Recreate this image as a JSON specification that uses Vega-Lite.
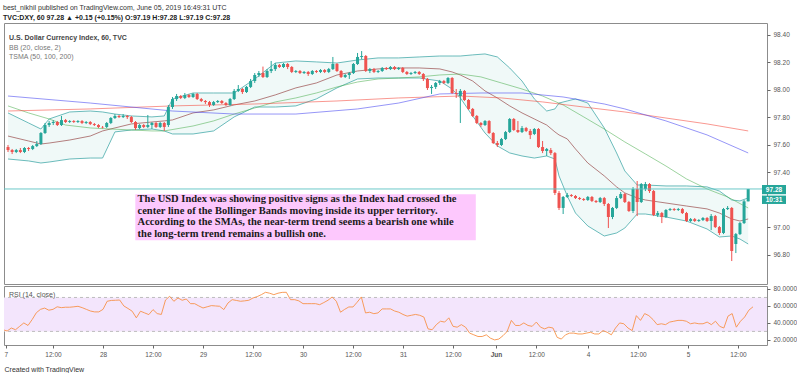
{
"$schema": "https://vega.github.io/schema/vega-lite/v6.json",
"background": "white",
"padding": {"left": 3, "top": 3, "right": 0, "bottom": 0},
"spacing": 0,
"title": {"text": "best_nikhil published on TradingView.com, June 05, 2019 16:49:31 UTC", "subtitle": "TVC:DXY, 60 97.28 ▲ +0.15 (+0.15%) O:97.19 H:97.28 L:97.19 C:97.28", "anchor": "start", "frame": "group", "dx": -1, "font": "Liberation Sans", "fontSize": 7, "fontWeight": "normal", "color": "#333333", "subtitleFont": "Liberation Sans", "subtitleFontSize": 7, "subtitleFontWeight": "bold", "subtitleColor": "#222222", "subtitlePadding": 3, "offset": 2},
"config": {
  "font": "Liberation Sans",
  "view": {"stroke": "#8c8c8c", "strokeWidth": 1},
  "axis": {"labelFont": "Liberation Sans", "labelFontSize": 6.5, "labelColor": "#555555", "tickColor": "#666666", "tickSize": 3, "domain": false, "grid": false, "titleFont": "Liberation Sans", "labelOverlap": false}
},
"datasets": {
"bars": [
{"i":0,"o":97.585,"h":97.600,"l":97.549,"c":97.563},
{"i":1,"o":97.563,"h":97.571,"l":97.534,"c":97.549},
{"i":2,"o":97.549,"h":97.571,"l":97.541,"c":97.563},
{"i":3,"o":97.563,"h":97.578,"l":97.541,"c":97.549},
{"i":4,"o":97.549,"h":97.585,"l":97.541,"c":97.578},
{"i":5,"o":97.578,"h":97.585,"l":97.556,"c":97.571},
{"i":6,"o":97.571,"h":97.600,"l":97.563,"c":97.592},
{"i":7,"o":97.592,"h":97.629,"l":97.585,"c":97.607},
{"i":8,"o":97.607,"h":97.694,"l":97.600,"c":97.687},
{"i":9,"o":97.687,"h":97.760,"l":97.680,"c":97.745},
{"i":10,"o":97.745,"h":97.774,"l":97.731,"c":97.760},
{"i":11,"o":97.760,"h":97.781,"l":97.745,"c":97.767},
{"i":12,"o":97.767,"h":97.774,"l":97.738,"c":97.745},
{"i":13,"o":97.745,"h":97.811,"l":97.738,"c":97.781},
{"i":14,"o":97.781,"h":97.789,"l":97.760,"c":97.767},
{"i":15,"o":97.767,"h":97.781,"l":97.760,"c":97.774},
{"i":16,"o":97.774,"h":97.781,"l":97.760,"c":97.767},
{"i":17,"o":97.767,"h":97.781,"l":97.760,"c":97.774},
{"i":18,"o":97.774,"h":97.781,"l":97.752,"c":97.760},
{"i":19,"o":97.760,"h":97.774,"l":97.752,"c":97.767},
{"i":20,"o":97.767,"h":97.774,"l":97.745,"c":97.752},
{"i":21,"o":97.752,"h":97.760,"l":97.738,"c":97.745},
{"i":22,"o":97.745,"h":97.752,"l":97.723,"c":97.731},
{"i":23,"o":97.731,"h":97.738,"l":97.720,"c":97.728},
{"i":24,"o":97.731,"h":97.767,"l":97.723,"c":97.760},
{"i":25,"o":97.760,"h":97.803,"l":97.752,"c":97.796},
{"i":26,"o":97.796,"h":97.825,"l":97.789,"c":97.811},
{"i":27,"o":97.811,"h":97.818,"l":97.796,"c":97.803},
{"i":28,"o":97.803,"h":97.825,"l":97.796,"c":97.811},
{"i":29,"o":97.811,"h":97.818,"l":97.789,"c":97.803},
{"i":30,"o":97.803,"h":97.811,"l":97.760,"c":97.767},
{"i":31,"o":97.767,"h":97.774,"l":97.709,"c":97.723},
{"i":32,"o":97.723,"h":97.752,"l":97.716,"c":97.745},
{"i":33,"o":97.745,"h":97.752,"l":97.723,"c":97.731},
{"i":34,"o":97.731,"h":97.818,"l":97.723,"c":97.745},
{"i":35,"o":97.745,"h":97.767,"l":97.716,"c":97.760},
{"i":36,"o":97.760,"h":97.767,"l":97.723,"c":97.731},
{"i":37,"o":97.731,"h":97.767,"l":97.723,"c":97.760},
{"i":38,"o":97.760,"h":97.767,"l":97.702,"c":97.731},
{"i":39,"o":97.745,"h":97.891,"l":97.731,"c":97.876},
{"i":40,"o":97.876,"h":97.949,"l":97.862,"c":97.934},
{"i":41,"o":97.934,"h":97.971,"l":97.920,"c":97.956},
{"i":42,"o":97.956,"h":97.963,"l":97.934,"c":97.942},
{"i":43,"o":97.942,"h":97.978,"l":97.934,"c":97.963},
{"i":44,"o":97.963,"h":97.971,"l":97.942,"c":97.949},
{"i":45,"o":97.949,"h":97.978,"l":97.942,"c":97.971},
{"i":46,"o":97.971,"h":97.978,"l":97.927,"c":97.934},
{"i":47,"o":97.934,"h":97.942,"l":97.912,"c":97.920},
{"i":48,"o":97.920,"h":97.927,"l":97.898,"c":97.912},
{"i":49,"o":97.912,"h":97.920,"l":97.876,"c":97.891},
{"i":50,"o":97.891,"h":97.920,"l":97.884,"c":97.912},
{"i":51,"o":97.912,"h":97.927,"l":97.905,"c":97.920},
{"i":52,"o":97.920,"h":97.927,"l":97.898,"c":97.905},
{"i":53,"o":97.905,"h":97.912,"l":97.884,"c":97.891},
{"i":54,"o":97.891,"h":97.942,"l":97.884,"c":97.934},
{"i":55,"o":97.934,"h":98.007,"l":97.927,"c":97.993},
{"i":56,"o":97.993,"h":98.036,"l":97.985,"c":98.007},
{"i":57,"o":98.007,"h":98.014,"l":97.971,"c":97.985},
{"i":58,"o":97.985,"h":98.029,"l":97.978,"c":98.022},
{"i":59,"o":98.022,"h":98.080,"l":98.014,"c":98.065},
{"i":60,"o":98.065,"h":98.123,"l":98.051,"c":98.109},
{"i":61,"o":98.109,"h":98.138,"l":98.094,"c":98.123},
{"i":62,"o":98.123,"h":98.170,"l":98.087,"c":98.094},
{"i":63,"o":98.094,"h":98.152,"l":98.087,"c":98.138},
{"i":64,"o":98.138,"h":98.211,"l":98.123,"c":98.152},
{"i":65,"o":98.152,"h":98.196,"l":98.138,"c":98.182},
{"i":66,"o":98.182,"h":98.189,"l":98.160,"c":98.167},
{"i":67,"o":98.167,"h":98.196,"l":98.160,"c":98.189},
{"i":68,"o":98.189,"h":98.196,"l":98.152,"c":98.167},
{"i":69,"o":98.167,"h":98.174,"l":98.123,"c":98.131},
{"i":70,"o":98.131,"h":98.145,"l":98.123,"c":98.138},
{"i":71,"o":98.138,"h":98.145,"l":98.116,"c":98.123},
{"i":72,"o":98.123,"h":98.138,"l":98.116,"c":98.131},
{"i":73,"o":98.131,"h":98.138,"l":98.102,"c":98.116},
{"i":74,"o":98.116,"h":98.145,"l":98.109,"c":98.138},
{"i":75,"o":98.138,"h":98.145,"l":98.123,"c":98.131},
{"i":76,"o":98.131,"h":98.152,"l":98.123,"c":98.145},
{"i":77,"o":98.145,"h":98.152,"l":98.123,"c":98.131},
{"i":78,"o":98.131,"h":98.160,"l":98.123,"c":98.152},
{"i":79,"o":98.152,"h":98.240,"l":98.145,"c":98.189},
{"i":80,"o":98.189,"h":98.196,"l":98.131,"c":98.138},
{"i":81,"o":98.138,"h":98.145,"l":98.087,"c":98.094},
{"i":82,"o":98.094,"h":98.116,"l":98.087,"c":98.109},
{"i":83,"o":98.109,"h":98.131,"l":98.080,"c":98.123},
{"i":84,"o":98.123,"h":98.196,"l":98.116,"c":98.189},
{"i":85,"o":98.189,"h":98.269,"l":98.182,"c":98.240},
{"i":86,"o":98.240,"h":98.283,"l":98.225,"c":98.247},
{"i":87,"o":98.247,"h":98.254,"l":98.131,"c":98.138},
{"i":88,"o":98.138,"h":98.160,"l":98.123,"c":98.152},
{"i":89,"o":98.152,"h":98.160,"l":98.123,"c":98.131},
{"i":90,"o":98.131,"h":98.145,"l":98.123,"c":98.138},
{"i":91,"o":98.138,"h":98.167,"l":98.131,"c":98.160},
{"i":92,"o":98.160,"h":98.167,"l":98.145,"c":98.152},
{"i":93,"o":98.152,"h":98.174,"l":98.145,"c":98.167},
{"i":94,"o":98.167,"h":98.174,"l":98.145,"c":98.152},
{"i":95,"o":98.152,"h":98.167,"l":98.145,"c":98.160},
{"i":96,"o":98.160,"h":98.167,"l":98.123,"c":98.131},
{"i":97,"o":98.131,"h":98.138,"l":98.109,"c":98.116},
{"i":98,"o":98.116,"h":98.131,"l":98.109,"c":98.123},
{"i":99,"o":98.123,"h":98.138,"l":98.116,"c":98.131},
{"i":100,"o":98.131,"h":98.138,"l":98.109,"c":98.116},
{"i":101,"o":98.116,"h":98.123,"l":98.065,"c":98.080},
{"i":102,"o":98.080,"h":98.087,"l":98.000,"c":98.014},
{"i":103,"o":98.014,"h":98.036,"l":97.971,"c":98.022},
{"i":104,"o":98.022,"h":98.058,"l":98.007,"c":98.051},
{"i":105,"o":98.051,"h":98.073,"l":98.036,"c":98.065},
{"i":106,"o":98.065,"h":98.073,"l":98.043,"c":98.051},
{"i":107,"o":98.051,"h":98.094,"l":98.043,"c":98.087},
{"i":108,"o":98.087,"h":98.094,"l":97.971,"c":97.978},
{"i":109,"o":97.978,"h":98.007,"l":97.942,"c":97.971},
{"i":110,"o":97.956,"h":98.007,"l":97.760,"c":97.993},
{"i":111,"o":97.993,"h":98.000,"l":97.920,"c":97.927},
{"i":112,"o":97.927,"h":97.934,"l":97.854,"c":97.862},
{"i":113,"o":97.862,"h":97.869,"l":97.803,"c":97.811},
{"i":114,"o":97.811,"h":97.818,"l":97.752,"c":97.760},
{"i":115,"o":97.760,"h":97.767,"l":97.731,"c":97.745},
{"i":116,"o":97.745,"h":97.781,"l":97.738,"c":97.774},
{"i":117,"o":97.774,"h":97.781,"l":97.680,"c":97.687},
{"i":118,"o":97.687,"h":97.694,"l":97.607,"c":97.614},
{"i":119,"o":97.614,"h":97.629,"l":97.585,"c":97.600},
{"i":120,"o":97.600,"h":97.651,"l":97.592,"c":97.643},
{"i":121,"o":97.643,"h":97.702,"l":97.636,"c":97.694},
{"i":122,"o":97.694,"h":97.796,"l":97.687,"c":97.789},
{"i":123,"o":97.789,"h":97.796,"l":97.702,"c":97.709},
{"i":124,"o":97.709,"h":97.774,"l":97.687,"c":97.694},
{"i":125,"o":97.694,"h":97.738,"l":97.687,"c":97.723},
{"i":126,"o":97.723,"h":97.731,"l":97.694,"c":97.702},
{"i":127,"o":97.702,"h":97.716,"l":97.643,"c":97.672},
{"i":128,"o":97.680,"h":97.723,"l":97.672,"c":97.716},
{"i":129,"o":97.716,"h":97.723,"l":97.578,"c":97.585},
{"i":130,"o":97.585,"h":97.629,"l":97.541,"c":97.556},
{"i":131,"o":97.556,"h":97.578,"l":97.520,"c":97.571},
{"i":132,"o":97.563,"h":97.578,"l":97.527,"c":97.541},
{"i":133,"o":97.541,"h":97.549,"l":97.236,"c":97.251},
{"i":134,"o":97.251,"h":97.265,"l":97.127,"c":97.142},
{"i":135,"o":97.142,"h":97.229,"l":97.098,"c":97.222},
{"i":136,"o":97.222,"h":97.251,"l":97.214,"c":97.236},
{"i":137,"o":97.236,"h":97.243,"l":97.222,"c":97.229},
{"i":138,"o":97.229,"h":97.236,"l":97.207,"c":97.214},
{"i":139,"o":97.214,"h":97.222,"l":97.200,"c":97.207},
{"i":140,"o":97.207,"h":97.214,"l":97.193,"c":97.200},
{"i":141,"o":97.200,"h":97.229,"l":97.193,"c":97.222},
{"i":142,"o":97.222,"h":97.229,"l":97.185,"c":97.193},
{"i":143,"o":97.193,"h":97.200,"l":97.178,"c":97.185},
{"i":144,"o":97.185,"h":97.222,"l":97.178,"c":97.214},
{"i":145,"o":97.214,"h":97.222,"l":97.156,"c":97.171},
{"i":146,"o":97.171,"h":97.178,"l":96.996,"c":97.076},
{"i":147,"o":97.076,"h":97.149,"l":97.061,"c":97.142},
{"i":148,"o":97.142,"h":97.229,"l":97.134,"c":97.214},
{"i":149,"o":97.214,"h":97.258,"l":97.207,"c":97.243},
{"i":150,"o":97.243,"h":97.251,"l":97.178,"c":97.185},
{"i":151,"o":97.185,"h":97.193,"l":97.113,"c":97.120},
{"i":152,"o":97.120,"h":97.294,"l":97.105,"c":97.280},
{"i":153,"o":97.280,"h":97.338,"l":97.083,"c":97.185},
{"i":154,"o":97.185,"h":97.323,"l":97.178,"c":97.316},
{"i":155,"o":97.280,"h":97.331,"l":97.265,"c":97.316},
{"i":156,"o":97.316,"h":97.323,"l":97.251,"c":97.265},
{"i":157,"o":97.265,"h":97.273,"l":97.083,"c":97.091},
{"i":158,"o":97.091,"h":97.120,"l":97.076,"c":97.105},
{"i":159,"o":97.105,"h":97.113,"l":97.032,"c":97.076},
{"i":160,"o":97.076,"h":97.134,"l":97.069,"c":97.127},
{"i":161,"o":97.127,"h":97.142,"l":97.120,"c":97.134},
{"i":162,"o":97.134,"h":97.142,"l":97.120,"c":97.127},
{"i":163,"o":97.127,"h":97.142,"l":97.120,"c":97.134},
{"i":164,"o":97.134,"h":97.142,"l":97.098,"c":97.105},
{"i":165,"o":97.105,"h":97.113,"l":97.040,"c":97.047},
{"i":166,"o":97.047,"h":97.069,"l":97.040,"c":97.061},
{"i":167,"o":97.061,"h":97.069,"l":97.040,"c":97.047},
{"i":168,"o":97.047,"h":97.061,"l":97.040,"c":97.054},
{"i":169,"o":97.054,"h":97.076,"l":97.047,"c":97.069},
{"i":170,"o":97.069,"h":97.076,"l":97.040,"c":97.047},
{"i":171,"o":97.047,"h":97.098,"l":96.981,"c":97.083},
{"i":172,"o":97.083,"h":97.091,"l":96.996,"c":97.003},
{"i":173,"o":97.003,"h":97.011,"l":96.945,"c":96.960},
{"i":174,"o":96.960,"h":97.142,"l":96.952,"c":97.134},
{"i":175,"o":97.134,"h":97.156,"l":97.127,"c":97.142},
{"i":176,"o":97.142,"h":97.149,"l":96.756,"c":96.829},
{"i":177,"o":96.880,"h":96.960,"l":96.814,"c":96.952},
{"i":178,"o":96.952,"h":97.040,"l":96.945,"c":97.032},
{"i":179,"o":97.032,"h":97.200,"l":97.025,"c":97.190},
{"i":180,"o":97.190,"h":97.280,"l":97.190,"c":97.280}
],
"bb": [
{"i":0,"u":97.833,"m":97.665,"l":97.498},
{"i":5,"u":97.760,"m":97.629,"l":97.484},
{"i":8,"u":97.716,"m":97.607,"l":97.469},
{"i":10,"u":97.789,"m":97.614,"l":97.476},
{"i":15,"u":97.840,"m":97.636,"l":97.498},
{"i":20,"u":97.847,"m":97.665,"l":97.505},
{"i":23,"u":97.840,"m":97.702,"l":97.505},
{"i":26,"u":97.825,"m":97.724,"l":97.695},
{"i":30,"u":97.811,"m":97.753,"l":97.709},
{"i":35,"u":97.804,"m":97.767,"l":97.716},
{"i":38,"u":97.811,"m":97.775,"l":97.702},
{"i":40,"u":97.935,"m":97.782,"l":97.680},
{"i":45,"u":97.978,"m":97.833,"l":97.680},
{"i":50,"u":97.978,"m":97.855,"l":97.702},
{"i":55,"u":97.978,"m":97.891,"l":97.804},
{"i":60,"u":98.080,"m":97.920,"l":97.876},
{"i":65,"u":98.196,"m":97.964,"l":97.876},
{"i":70,"u":98.211,"m":98.015,"l":97.884},
{"i":75,"u":98.204,"m":98.051,"l":97.935},
{"i":80,"u":98.196,"m":98.109,"l":98.015},
{"i":85,"u":98.218,"m":98.138,"l":98.080},
{"i":90,"u":98.233,"m":98.153,"l":98.087},
{"i":95,"u":98.233,"m":98.160,"l":98.087},
{"i":100,"u":98.240,"m":98.160,"l":98.087},
{"i":105,"u":98.247,"m":98.153,"l":98.065},
{"i":108,"u":98.247,"m":98.131,"l":98.007},
{"i":110,"u":98.247,"m":98.109,"l":97.942},
{"i":113,"u":98.255,"m":98.065,"l":97.811},
{"i":116,"u":98.262,"m":97.993,"l":97.687},
{"i":119,"u":98.240,"m":97.942,"l":97.593},
{"i":122,"u":98.160,"m":97.884,"l":97.542},
{"i":125,"u":98.065,"m":97.833,"l":97.520},
{"i":128,"u":97.935,"m":97.789,"l":97.505},
{"i":131,"u":97.847,"m":97.745,"l":97.520},
{"i":133,"u":97.862,"m":97.695,"l":97.498},
{"i":134,"u":97.905,"m":97.673,"l":97.375},
{"i":136,"u":97.920,"m":97.644,"l":97.229},
{"i":138,"u":97.935,"m":97.571,"l":97.105},
{"i":141,"u":97.905,"m":97.469,"l":97.011},
{"i":145,"u":97.724,"m":97.375,"l":96.938},
{"i":148,"u":97.542,"m":97.295,"l":96.960},
{"i":150,"u":97.411,"m":97.251,"l":96.996},
{"i":153,"u":97.309,"m":97.215,"l":97.098},
{"i":155,"u":97.309,"m":97.200,"l":97.098},
{"i":160,"u":97.302,"m":97.178,"l":97.076},
{"i":165,"u":97.302,"m":97.156,"l":97.047},
{"i":170,"u":97.295,"m":97.135,"l":96.989},
{"i":173,"u":97.265,"m":97.105,"l":96.931},
{"i":176,"u":97.200,"m":97.062,"l":96.938},
{"i":178,"u":97.193,"m":97.047,"l":96.916},
{"i":180,"u":97.215,"m":97.062,"l":96.880}
],
"sma": [
{"s":"50","i":0,"v":97.884},{"s":"50","i":5,"v":97.833},{"s":"50","i":10,"v":97.789},{"s":"50","i":14,"v":97.745},{"s":"50","i":20,"v":97.724},{"s":"50","i":25,"v":97.716},{"s":"50","i":30,"v":97.709},{"s":"50","i":35,"v":97.702},{"s":"50","i":38,"v":97.702},{"s":"50","i":45,"v":97.738},{"s":"50","i":50,"v":97.775},{"s":"50","i":55,"v":97.825},{"s":"50","i":60,"v":97.869},{"s":"50","i":65,"v":97.913},{"s":"50","i":70,"v":97.942},{"s":"50","i":75,"v":97.978},{"s":"50","i":80,"v":98.022},{"s":"50","i":85,"v":98.058},{"s":"50","i":90,"v":98.080},{"s":"50","i":95,"v":98.087},{"s":"50","i":100,"v":98.095},{"s":"50","i":105,"v":98.109},{"s":"50","i":110,"v":98.116},{"s":"50","i":115,"v":98.095},{"s":"50","i":120,"v":98.051},{"s":"50","i":125,"v":98.007},{"s":"50","i":130,"v":97.956},{"s":"50","i":135,"v":97.891},{"s":"50","i":140,"v":97.804},{"s":"50","i":145,"v":97.716},{"s":"50","i":150,"v":97.622},{"s":"50","i":155,"v":97.535},{"s":"50","i":160,"v":97.447},{"s":"50","i":165,"v":97.353},{"s":"50","i":170,"v":97.280},{"s":"50","i":175,"v":97.222},{"s":"50","i":180,"v":97.142},
{"s":"100","i":0,"v":97.847},{"s":"100","i":20,"v":97.862},{"s":"100","i":40,"v":97.884},{"s":"100","i":60,"v":97.898},{"s":"100","i":80,"v":97.920},{"s":"100","i":95,"v":97.942},{"s":"100","i":110,"v":97.956},{"s":"100","i":120,"v":97.942},{"s":"100","i":130,"v":97.913},{"s":"100","i":140,"v":97.876},{"s":"100","i":150,"v":97.840},{"s":"100","i":160,"v":97.796},{"s":"100","i":170,"v":97.753},{"s":"100","i":180,"v":97.702},
{"s":"200","i":0,"v":97.956},{"s":"200","i":20,"v":97.905},{"s":"200","i":40,"v":97.847},{"s":"200","i":55,"v":97.825},{"s":"200","i":70,"v":97.825},{"s":"200","i":85,"v":97.862},{"s":"200","i":95,"v":97.905},{"s":"200","i":105,"v":97.971},{"s":"200","i":115,"v":97.978},{"s":"200","i":125,"v":97.978},{"s":"200","i":135,"v":97.949},{"s":"200","i":145,"v":97.898},{"s":"200","i":150,"v":97.862},{"s":"200","i":160,"v":97.775},{"s":"200","i":170,"v":97.673},{"s":"200","i":180,"v":97.542}
],
"rsi": [
{"i":0,"r":32},{"i":1,"r":30.5},{"i":2,"r":34},{"i":3,"r":32},{"i":4,"r":36},{"i":5,"r":40},{"i":6,"r":37},{"i":7,"r":44},{"i":8,"r":52},{"i":9,"r":56},
{"i":10,"r":57.5},{"i":11,"r":55},{"i":12,"r":56},{"i":13,"r":59},{"i":14,"r":58},{"i":15,"r":58.5},{"i":16,"r":58.5},{"i":17,"r":59},{"i":18,"r":59.6},{"i":19,"r":58},
{"i":20,"r":56},{"i":21,"r":54},{"i":22,"r":53},{"i":23,"r":53},{"i":24,"r":56},{"i":25,"r":65.5},{"i":26,"r":66.5},{"i":27,"r":66.7},{"i":28,"r":67},{"i":29,"r":60},
{"i":30,"r":57},{"i":31,"r":53.8},{"i":32,"r":46},{"i":33,"r":53.8},{"i":34,"r":51.8},{"i":35,"r":49.8},{"i":36,"r":55.7},{"i":37,"r":51},{"i":38,"r":50},{"i":39,"r":67},
{"i":40,"r":71.4},{"i":41,"r":65.5},{"i":42,"r":69.4},{"i":43,"r":66.7},{"i":44,"r":68.2},{"i":45,"r":62.7},{"i":46,"r":62.7},{"i":47,"r":60},{"i":48,"r":57.6},{"i":49,"r":59},
{"i":50,"r":60.4},{"i":51,"r":60},{"i":52,"r":59.6},{"i":53,"r":55.7},{"i":54,"r":63.5},{"i":55,"r":67.4},{"i":56,"r":66.5},{"i":57,"r":65.5},{"i":58,"r":66},{"i":59,"r":66.7},
{"i":60,"r":69.4},{"i":61,"r":71},{"i":62,"r":73.3},{"i":63,"r":76.1},{"i":64,"r":75},{"i":65,"r":73.3},{"i":66,"r":75},{"i":67,"r":76},{"i":68,"r":76.1},{"i":69,"r":67.4},
{"i":70,"r":67.4},{"i":71,"r":66},{"i":72,"r":62.7},{"i":73,"r":62.7},{"i":74,"r":62.7},{"i":75,"r":62.7},{"i":76,"r":61.5},{"i":77,"r":64},{"i":78,"r":66.7},{"i":79,"r":70.6},
{"i":80,"r":65.5},{"i":81,"r":52.6},{"i":82,"r":56},{"i":83,"r":58.8},{"i":84,"r":58.8},{"i":85,"r":64.4},{"i":86,"r":70.6},{"i":87,"r":51.8},{"i":88,"r":52.6},{"i":89,"r":50.9},
{"i":90,"r":51.8},{"i":91,"r":56.5},{"i":92,"r":56.5},{"i":93,"r":56.5},{"i":94,"r":54},{"i":95,"r":52.6},{"i":96,"r":50},{"i":97,"r":48},{"i":98,"r":49},{"i":99,"r":50},
{"i":100,"r":49},{"i":101,"r":47},{"i":102,"r":33},{"i":103,"r":32},{"i":104,"r":38},{"i":105,"r":42},{"i":106,"r":41},{"i":107,"r":46},{"i":108,"r":36},{"i":109,"r":35},
{"i":110,"r":38},{"i":111,"r":35},{"i":112,"r":28},{"i":113,"r":26},{"i":114,"r":24},{"i":115,"r":24},{"i":116,"r":26},{"i":117,"r":22},{"i":118,"r":20},{"i":119,"r":21},
{"i":120,"r":25},{"i":121,"r":30},{"i":122,"r":43},{"i":123,"r":37},{"i":124,"r":37},{"i":125,"r":40},{"i":126,"r":37},{"i":127,"r":36},{"i":128,"r":41},{"i":129,"r":35},
{"i":130,"r":33},{"i":131,"r":35},{"i":132,"r":34},{"i":133,"r":23},{"i":134,"r":21},{"i":135,"r":26},{"i":136,"r":28},{"i":137,"r":28},{"i":138,"r":27},{"i":139,"r":27},
{"i":140,"r":28},{"i":141,"r":29},{"i":142,"r":27},{"i":143,"r":27},{"i":144,"r":31},{"i":145,"r":29},{"i":146,"r":26},{"i":147,"r":34},{"i":148,"r":40},{"i":149,"r":39},
{"i":150,"r":34},{"i":151,"r":31},{"i":152,"r":48.6},{"i":153,"r":43},{"i":154,"r":51},{"i":155,"r":48.6},{"i":156,"r":44},{"i":157,"r":38},{"i":158,"r":39},{"i":159,"r":38},
{"i":160,"r":41},{"i":161,"r":42},{"i":162,"r":43},{"i":163,"r":43},{"i":164,"r":42},{"i":165,"r":39},{"i":166,"r":40},{"i":167,"r":39},{"i":168,"r":39},{"i":169,"r":41},
{"i":170,"r":38},{"i":171,"r":42},{"i":172,"r":36},{"i":173,"r":34},{"i":174,"r":48},{"i":175,"r":51},{"i":176,"r":35},{"i":177,"r":42},{"i":178,"r":47},{"i":179,"r":55},{"i":180,"r":59}
]
},
"vconcat": [
{
"width": 763, "height": 261,
"title": {"text": "U.S. Dollar Currency Index, 60, TVC", "subtitle": ["BB (20, close, 2)", "TSMA (50, 100, 200)"], "anchor": "start", "frame": "group", "dx": 5, "offset": -37, "font": "Liberation Sans", "fontSize": 7, "fontWeight": "bold", "color": "#444444", "subtitleFont": "Liberation Sans", "subtitleFontSize": 7, "subtitleColor": "#777777", "subtitlePadding": 2.5, "subtitleLineHeight": 9.5},
"layer": [
{"data": {"name": "bb"}, "mark": {"type": "area", "color": "#26a69a", "opacity": 0.07, "clip": true},
 "encoding": {"x": {"field": "i", "type": "quantitative", "scale": {"domain": [0.24, 183.36], "nice": false, "zero": false}, "axis": null},
  "y": {"field": "u", "type": "quantitative", "scale": {"domain": [96.589, 98.487], "nice": false, "zero": false}, "axis": {"orient": "right", "values": [96.8, 97.0, 97.4, 97.6, 97.8, 98.0, 98.2, 98.4], "tickCount": 30, "format": ".2f", "title": null, "labelPadding": 3, "labelOverlap": false}},
  "y2": {"field": "l"}}},
{"data": {"name": "bb"}, "mark": {"type": "line", "color": "#2f9f9f", "strokeWidth": 1, "opacity": 0.7, "clip": true},
 "encoding": {"x": {"field": "i", "type": "quantitative", "scale": {"domain": [0.24, 183.36], "nice": false, "zero": false}},
  "y": {"field": "u", "type": "quantitative", "scale": {"domain": [96.589, 98.487], "nice": false, "zero": false}}}},
{"data": {"name": "bb"}, "mark": {"type": "line", "color": "#2f9f9f", "strokeWidth": 1, "opacity": 0.7, "clip": true},
 "encoding": {"x": {"field": "i", "type": "quantitative", "scale": {"domain": [0.24, 183.36], "nice": false, "zero": false}},
  "y": {"field": "l", "type": "quantitative", "scale": {"domain": [96.589, 98.487], "nice": false, "zero": false}}}},
{"data": {"name": "bb"}, "mark": {"type": "line", "color": "#8b2d2d", "strokeWidth": 1, "opacity": 0.6, "clip": true},
 "encoding": {"x": {"field": "i", "type": "quantitative", "scale": {"domain": [0.24, 183.36], "nice": false, "zero": false}},
  "y": {"field": "m", "type": "quantitative", "scale": {"domain": [96.589, 98.487], "nice": false, "zero": false}}}},
{"data": {"name": "sma"}, "mark": {"type": "line", "strokeWidth": 1, "opacity": 0.55, "clip": true},
 "encoding": {"x": {"field": "i", "type": "quantitative", "scale": {"domain": [0.24, 183.36], "nice": false, "zero": false}},
  "y": {"field": "v", "type": "quantitative", "scale": {"domain": [96.589, 98.487], "nice": false, "zero": false}},
  "color": {"field": "s", "type": "nominal", "scale": {"domain": ["50", "100", "200"], "range": ["#4caf50", "#f44336", "#3f3ff0"]}, "legend": null}}},
{"data": {"name": "bars"}, "mark": {"type": "rule", "strokeWidth": 1, "clip": true},
 "encoding": {"x": {"field": "i", "type": "quantitative", "scale": {"domain": [0.24, 183.36], "nice": false, "zero": false}},
  "y": {"field": "h", "type": "quantitative", "scale": {"domain": [96.589, 98.487], "nice": false, "zero": false}},
  "y2": {"field": "l"},
  "color": {"condition": {"test": "datum.c >= datum.o", "value": "#26a69a"}, "value": "#ef5350"}}},
{"data": {"name": "bars"}, "mark": {"type": "bar", "size": 3, "clip": true},
 "encoding": {"x": {"field": "i", "type": "quantitative", "scale": {"domain": [0.24, 183.36], "nice": false, "zero": false}},
  "y": {"field": "o", "type": "quantitative", "scale": {"domain": [96.589, 98.487], "nice": false, "zero": false}},
  "y2": {"field": "c"},
  "color": {"condition": {"test": "datum.c >= datum.o", "value": "#26a69a"}, "value": "#ef5350"}}},
{"data": {"values": [{}]}, "mark": {"type": "rule", "color": "#5cc3c3", "strokeWidth": 1, "opacity": 0.9},
 "encoding": {"y": {"datum": 97.28, "type": "quantitative", "scale": {"domain": [96.589, 98.487], "nice": false, "zero": false}}}},
{"data": {"values": [{}]}, "mark": {"type": "rect", "color": "#fdc8fd"},
 "encoding": {"x": {"datum": 30.96, "type": "quantitative", "scale": {"domain": [0.24, 183.36], "nice": false, "zero": false}}, "x2": {"datum": 113.76},
  "y": {"datum": 97.242, "type": "quantitative", "scale": {"domain": [96.589, 98.487], "nice": false, "zero": false}}, "y2": {"datum": 96.907}}},
{"data": {"values": [{}]}, "mark": {"type": "text", "text": ["The USD Index was showing positive signs as the Index had crossed the", "center line of the Bollinger Bands moving inside its upper territory.", "According to the SMAs, the near-term trend seems a bearish one while", "the long-term trend remains a bullish one."], "font": "Liberation Serif", "fontWeight": "bold", "fontSize": 10.5, "lineHeight": 11.4, "align": "left", "baseline": "top", "color": "#1a1a1a"},
 "encoding": {"x": {"datum": 31.5, "type": "quantitative", "scale": {"domain": [0.24, 183.36], "nice": false, "zero": false}},
  "y": {"datum": 97.241, "type": "quantitative", "scale": {"domain": [96.589, 98.487], "nice": false, "zero": false}}}},
{"data": {"values": [{}]}, "mark": {"type": "rect", "color": "#26a69a", "clip": false},
 "encoding": {"x": {"datum": 183.36, "type": "quantitative", "scale": {"domain": [0.24, 183.36], "nice": false, "zero": false}}, "x2": {"datum": 189.2},
  "y": {"datum": 97.309, "type": "quantitative", "scale": {"domain": [96.589, 98.487], "nice": false, "zero": false}}, "y2": {"datum": 97.242}}},
{"data": {"values": [{}]}, "mark": {"type": "rect", "color": "#26a69a", "clip": false},
 "encoding": {"x": {"datum": 183.36, "type": "quantitative", "scale": {"domain": [0.24, 183.36], "nice": false, "zero": false}}, "x2": {"datum": 189.2},
  "y": {"datum": 97.232, "type": "quantitative", "scale": {"domain": [96.589, 98.487], "nice": false, "zero": false}}, "y2": {"datum": 97.171}}},
{"data": {"values": [{}]}, "mark": {"type": "text", "text": "97.28", "color": "white", "fontSize": 6.5, "fontWeight": "bold", "align": "center", "baseline": "middle", "clip": false},
 "encoding": {"x": {"datum": 186.28, "type": "quantitative", "scale": {"domain": [0.24, 183.36], "nice": false, "zero": false}},
  "y": {"datum": 97.276, "type": "quantitative", "scale": {"domain": [96.589, 98.487], "nice": false, "zero": false}}}},
{"data": {"values": [{}]}, "mark": {"type": "text", "text": "10:31", "color": "white", "fontSize": 6.5, "fontWeight": "bold", "align": "center", "baseline": "middle", "clip": false},
 "encoding": {"x": {"datum": 186.28, "type": "quantitative", "scale": {"domain": [0.24, 183.36], "nice": false, "zero": false}},
  "y": {"datum": 97.201, "type": "quantitative", "scale": {"domain": [96.589, 98.487], "nice": false, "zero": false}}}}
]
},
{
"width": 763, "height": 59,
"title": {"text": "RSI (14, close)", "anchor": "start", "frame": "group", "dx": 5, "offset": -12, "font": "Liberation Sans", "fontSize": 7, "fontWeight": "normal", "color": "#555555"},
"layer": [
{"data": {"values": [{}]}, "mark": {"type": "rect", "color": "#f3e5fc"},
 "encoding": {"y": {"datum": 70, "type": "quantitative", "scale": {"domain": [14, 83.5], "nice": false, "zero": false}, "axis": {"orient": "right", "values": [20, 40, 60, 80], "tickCount": 30, "format": ".4f", "title": null, "labelPadding": 3, "labelOverlap": false}}, "y2": {"datum": 30}}},
{"data": {"values": [{}]}, "mark": {"type": "rule", "color": "#bdbdbd", "strokeWidth": 1, "strokeDash": [3, 3]},
 "encoding": {"y": {"datum": 70, "type": "quantitative", "scale": {"domain": [14, 83.5], "nice": false, "zero": false}}}},
{"data": {"values": [{}]}, "mark": {"type": "rule", "color": "#bdbdbd", "strokeWidth": 1, "strokeDash": [3, 3]},
 "encoding": {"y": {"datum": 30, "type": "quantitative", "scale": {"domain": [14, 83.5], "nice": false, "zero": false}}}},
{"data": {"name": "rsi"}, "mark": {"type": "line", "color": "#f7924a", "strokeWidth": 1, "opacity": 0.9, "clip": true},
 "encoding": {"x": {"field": "i", "type": "quantitative", "scale": {"domain": [0.24, 183.36], "nice": false, "zero": false},
   "axis": {"values": [0.7, 12, 24, 36, 48, 60, 72, 84, 96, 108, 118.3, 128, 140.4, 152.4, 164.4, 176.4], "tickCount": 40,
    "labelExpr": "datum.value < 1 ? '7' : datum.value == 24 ? '28' : datum.value == 48 ? '29' : datum.value == 72 ? '30' : datum.value == 96 ? '31' : datum.value == 118.3 ? 'Jun' : datum.value == 140.4 ? '4' : datum.value == 164.4 ? '5' : '12:00'",
    "labelFontWeight": {"condition": {"test": "datum.value == 118.3", "value": "bold"}, "value": "normal"},
    "labelFlush": false, "labelOverlap": false, "labelPadding": 3,
    "title": "Created with TradingView", "titleAnchor": "start", "titleAlign": "left", "titleX": 0, "titleY": 24, "titleBaseline": "middle", "titleFontSize": 7, "titleFontWeight": "normal", "titleColor": "#333333"}},
  "y": {"field": "r", "type": "quantitative", "scale": {"domain": [14, 83.5], "nice": false, "zero": false}}}}
]
}
]
}
